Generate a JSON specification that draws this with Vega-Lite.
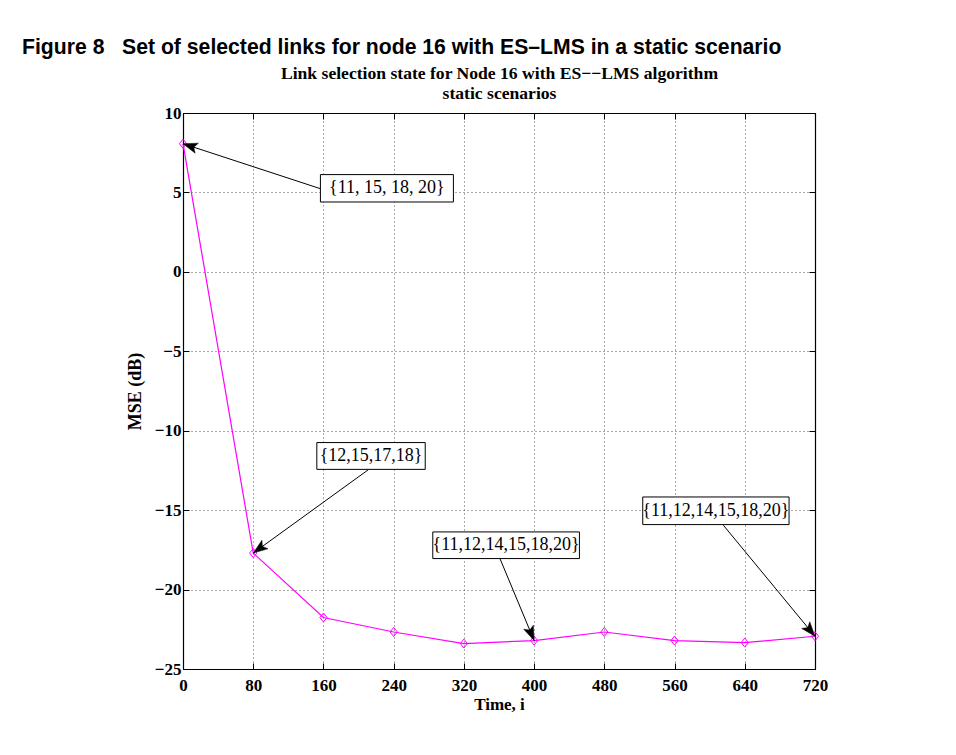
{
  "$schema": "https://vega.github.io/schema/vega-lite/v6.json",
  "width": 632,
  "height": 556,
  "autosize": {"type": "none"},
  "padding": {"left": 183, "top": 113, "right": 141, "bottom": 86},
  "background": "white",
  "config": {
    "view": {"stroke": "black", "strokeWidth": 1},
    "axis": {
      "domainColor": "black",
      "domainWidth": 1.2,
      "tickColor": "black",
      "tickWidth": 1,
      "tickSize": -6,
      "labelColor": "black",
      "labelFont": "Liberation Serif",
      "labelFontWeight": "bold",
      "labelFontSize": 17,
      "titleColor": "black",
      "titleFont": "Liberation Serif",
      "titleFontWeight": "bold",
      "titleFontSize": 17,
      "gridColor": "#555",
      "gridDash": [1, 3],
      "gridWidth": 1,
      "gridOpacity": 1
    }
  },
  "title": {
    "text": "Figure 8\u00a0\u00a0\u00a0Set of selected links for node 16 with ES\u2013LMS in a static scenario",
    "font": "Liberation Sans",
    "fontWeight": "bold",
    "fontSize": 21.2,
    "color": "black",
    "anchor": "start",
    "frame": "group",
    "dx": -161,
    "offset": 6
  },
  "datasets": {
    "mse": [
      {"time": 0, "mse": 8.07},
      {"time": 80, "mse": -17.7},
      {"time": 160, "mse": -21.76},
      {"time": 240, "mse": -22.67},
      {"time": 320, "mse": -23.4},
      {"time": 400, "mse": -23.21},
      {"time": 480, "mse": -22.67},
      {"time": 560, "mse": -23.21},
      {"time": 640, "mse": -23.34},
      {"time": 720, "mse": -22.94}
    ],
    "ann": [
      {"label": "{11, 15, 18, 20}", "tx": 232.3, "ty": 5.26, "ax": 156.3, "ay": 5.24, "px": 0, "py": 8.07},
      {"label": "{12,15,17,18}", "tx": 214.2, "ty": -11.59, "ax": 211.3, "ay": -12.45, "px": 80, "py": -17.7},
      {"label": "{11,12,14,15,18,20} ", "tx": 368.1, "ty": -17.21, "ax": 361.1, "ay": -18.05, "px": 400, "py": -23.21},
      {"label": "{11,12,14,15,18,20}", "tx": 607.1, "ty": -15.04, "ax": 615.6, "ay": -15.95, "px": 720, "py": -22.94}
    ]
  },
  "resolve": {"scale": {"shape": "independent"}},
  "layer": [
    {
      "data": {"name": "mse"},
      "mark": {
        "type": "line",
        "color": "#ff00ff",
        "strokeWidth": 1.2,
        "point": {"shape": "M0,-1L0.8,0L0,1L-0.8,0Z", "filled": false, "size": 81, "stroke": "#ff00ff", "strokeWidth": 1, "fill": "transparent"}
      },
      "encoding": {
        "x": {
          "field": "time", "type": "quantitative",
          "scale": {"domain": [0, 720], "nice": false, "zero": false},
          "axis": {"orient": "bottom", "values": [0, 80, 160, 240, 320, 400, 480, 560, 640, 720], "grid": true, "labelPadding": 14, "title": "Time, i", "titlePadding": 3, "labelFlush": false}
        },
        "y": {
          "field": "mse", "type": "quantitative",
          "scale": {"domain": [-25, 10], "nice": false, "zero": false},
          "axis": {"orient": "left", "values": [-25, -20, -15, -10, -5, 0, 5, 10], "grid": true, "labelPadding": 8, "title": "MSE (dB)", "titleFontSize": 18, "titlePadding": 10, "labelFlush": false}
        }
      }
    },
    {
      "data": {"name": "ann"},
      "mark": {"type": "rule", "color": "black", "strokeWidth": 1},
      "encoding": {
        "x": {
          "field": "ax", "type": "quantitative",
          "axis": {
            "orient": "top", "values": [0, 80, 160, 240, 320, 400, 480, 560, 640, 720], "grid": false, "labels": false,
            "title": ["Link selection state for Node 16 with ES\u2212\u2212LMS algorithm", "static scenarios"],
            "titleFontSize": 17.6, "titleLineHeight": 20,
            "titleX": 316, "titleY": -35, "titleAlign": "center", "titleBaseline": "alphabetic", "titleAngle": 0
          }
        },
        "y": {
          "field": "ay", "type": "quantitative",
          "axis": {"orient": "right", "values": [-25, -20, -15, -10, -5, 0, 5, 10], "grid": false, "labels": false, "title": null}
        },
        "x2": {"field": "px"},
        "y2": {"field": "py"}
      }
    },
    {
      "data": {"name": "ann"},
      "mark": {"type": "point", "filled": true, "fill": "black", "stroke": "black", "strokeWidth": 0.5, "opacity": 1, "size": 841},
      "encoding": {
        "x": {"field": "px", "type": "quantitative", "axis": null},
        "y": {"field": "py", "type": "quantitative", "axis": null},
        "shape": {
          "field": "label", "type": "nominal", "legend": null,
          "scale": {
            "domain": ["{11, 15, 18, 20}", "{12,15,17,18}", "{11,12,14,15,18,20} ", "{11,12,14,15,18,20}"],
            "range": ["M0,0L1.062,-0.030L0.741,0.243L0.838,0.654Z", "M0,0L0.599,-0.878L0.632,-0.457L1.021,-0.294Z", "M0,0L-0.717,-0.784L-0.300,-0.720L-0.053,-1.062Z", "M0,0L-0.916,-0.539L-0.498,-0.600L-0.362,-0.999Z"]
          }
        }
      }
    },
    {
      "data": {"name": "ann"},
      "mark": {"type": "point", "filled": true, "fill": "white", "stroke": "black", "strokeWidth": 1, "opacity": 1, "size": 6400},
      "encoding": {
        "x": {"field": "tx", "type": "quantitative", "axis": null},
        "y": {"field": "ty", "type": "quantitative", "axis": null},
        "shape": {
          "field": "label", "type": "nominal", "legend": null,
          "scale": {
            "domain": ["{11, 15, 18, 20}", "{12,15,17,18}", "{11,12,14,15,18,20} ", "{11,12,14,15,18,20}"],
            "range": ["M-1.6625,-0.3425L1.6625,-0.3425L1.6625,0.3425L-1.6625,0.3425Z", "M-1.355,-0.335L1.355,-0.335L1.355,0.335L-1.355,0.335Z", "M-1.833,-0.333L1.833,-0.333L1.833,0.333L-1.833,0.333Z", "M-1.829,-0.345L1.829,-0.345L1.829,0.345L-1.829,0.345Z"]
          }
        }
      }
    },
    {
      "data": {"name": "ann"},
      "mark": {"type": "text", "font": "Liberation Serif", "fontSize": 18, "color": "black", "align": "center", "baseline": "middle"},
      "encoding": {
        "x": {"field": "tx", "type": "quantitative", "axis": null},
        "y": {"field": "ty", "type": "quantitative", "axis": null},
        "text": {"field": "label"}
      }
    }
  ]
}
